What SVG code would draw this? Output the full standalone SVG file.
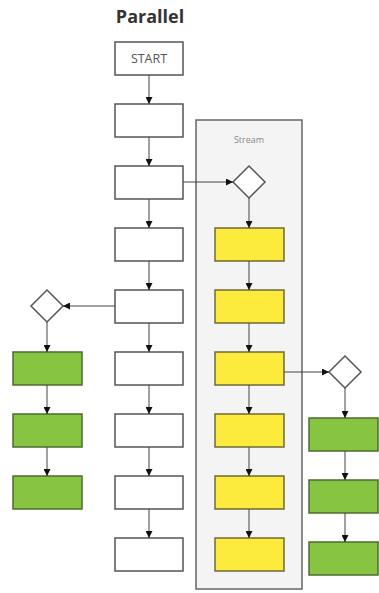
<svg xmlns="http://www.w3.org/2000/svg" width="379" height="593" viewBox="0 0 379 593">
  <style>
    .title { font-family: "Open Sans", "Liberation Sans", sans-serif; font-weight: bold; font-size: 18px; fill: #333; }
    .label { font-family: "Open Sans", "Liberation Sans", sans-serif; font-size: 12.5px; fill: #555; }
    .small { font-family: "Open Sans", "Liberation Sans", sans-serif; font-size: 9px; fill: #888; }
    .task { fill: #ffffff; stroke: #555555; stroke-width: 1.5; }
    .yellow { fill: #fcea3c; stroke: #6f6a35; stroke-width: 1.5; }
    .green { fill: #87c442; stroke: #4d6b30; stroke-width: 1.5; }
    .gate { fill: #ffffff; stroke: #555555; stroke-width: 1.5; }
    .lane { fill: #f4f4f4; stroke: #666666; stroke-width: 1.5; }
    .edge { fill: none; stroke: #444444; stroke-width: 1; marker-end: url(#arrow); }
  </style>
  <defs>
    <marker id="arrow" viewBox="0 0 10 10" refX="10" refY="5" markerWidth="7" markerHeight="7" markerUnits="userSpaceOnUse" orient="auto">
      <path d="M0,0 L10,5 L0,10 Z" fill="#111111"/>
    </marker>
  </defs>

  <rect width="379" height="593" fill="#ffffff"/>

  <text class="title" x="150" y="23" text-anchor="middle">Parallel</text>

  <!-- Stream container -->
  <g id="stream">
    <rect class="lane" x="196" y="120" width="106" height="469"/>
    <text class="small" x="249" y="143" text-anchor="middle">Stream</text>
  </g>

  <!-- Main column -->
  <g id="start"><rect class="task" x="115" y="42" width="68" height="33"/><text class="label" x="149" y="63" text-anchor="middle">START</text></g>
  <g id="m2"><rect class="task" x="115" y="104" width="68" height="33"/></g>
  <g id="m3"><rect class="task" x="115" y="166" width="68" height="33"/></g>
  <g id="m4"><rect class="task" x="115" y="228" width="68" height="33"/></g>
  <g id="m5"><rect class="task" x="115" y="290" width="68" height="33"/></g>
  <g id="m6"><rect class="task" x="115" y="352" width="68" height="33"/></g>
  <g id="m7"><rect class="task" x="115" y="414" width="68" height="33"/></g>
  <g id="m8"><rect class="task" x="115" y="476" width="68" height="33"/></g>
  <g id="m9"><rect class="task" x="115" y="538" width="68" height="33"/></g>

  <!-- Left branch -->
  <g id="lgate"><path class="gate" d="M47,290 L63,306 L47,322 L31,306 Z"/></g>
  <g id="l1"><rect class="green" x="13" y="352" width="69" height="33"/></g>
  <g id="l2"><rect class="green" x="13" y="414" width="69" height="33"/></g>
  <g id="l3"><rect class="green" x="13" y="476" width="69" height="33"/></g>

  <!-- Stream content -->
  <g id="sgate"><path class="gate" d="M249,166 L265,182 L249,198 L233,182 Z"/></g>
  <g id="s1"><rect class="yellow" x="215" y="228" width="69" height="33"/></g>
  <g id="s2"><rect class="yellow" x="215" y="290" width="69" height="33"/></g>
  <g id="s3"><rect class="yellow" x="215" y="352" width="69" height="33"/></g>
  <g id="s4"><rect class="yellow" x="215" y="414" width="69" height="33"/></g>
  <g id="s5"><rect class="yellow" x="215" y="476" width="69" height="33"/></g>
  <g id="s6"><rect class="yellow" x="215" y="538" width="69" height="33"/></g>

  <!-- Right branch -->
  <g id="rgate"><path class="gate" d="M345,356 L361,372 L345,388 L329,372 Z"/></g>
  <g id="r1"><rect class="green" x="309" y="418" width="69" height="33"/></g>
  <g id="r2"><rect class="green" x="309" y="480" width="69" height="33"/></g>
  <g id="r3"><rect class="green" x="309" y="542" width="69" height="33"/></g>

  <!-- Connectors -->
  <g id="connectors">
    <line class="edge" x1="149" y1="75" x2="149" y2="104"/>
    <line class="edge" x1="149" y1="137" x2="149" y2="166"/>
    <line class="edge" x1="149" y1="199" x2="149" y2="228"/>
    <line class="edge" x1="149" y1="261" x2="149" y2="290"/>
    <line class="edge" x1="149" y1="323" x2="149" y2="352"/>
    <line class="edge" x1="149" y1="385" x2="149" y2="414"/>
    <line class="edge" x1="149" y1="447" x2="149" y2="476"/>
    <line class="edge" x1="149" y1="509" x2="149" y2="538"/>

    <line class="edge" x1="183" y1="182" x2="233" y2="182"/>
    <line class="edge" x1="249" y1="198" x2="249" y2="228"/>
    <line class="edge" x1="249" y1="261" x2="249" y2="290"/>
    <line class="edge" x1="249" y1="323" x2="249" y2="352"/>
    <line class="edge" x1="249" y1="385" x2="249" y2="414"/>
    <line class="edge" x1="249" y1="447" x2="249" y2="476"/>
    <line class="edge" x1="249" y1="509" x2="249" y2="538"/>

    <line class="edge" x1="115" y1="306" x2="63" y2="306"/>
    <line class="edge" x1="47" y1="322" x2="47" y2="352"/>
    <line class="edge" x1="47" y1="385" x2="47" y2="414"/>
    <line class="edge" x1="47" y1="447" x2="47" y2="476"/>

    <line class="edge" x1="284" y1="372" x2="329" y2="372"/>
    <line class="edge" x1="345" y1="388" x2="345" y2="418"/>
    <line class="edge" x1="345" y1="451" x2="345" y2="480"/>
    <line class="edge" x1="345" y1="513" x2="345" y2="542"/>
  </g>
</svg>
